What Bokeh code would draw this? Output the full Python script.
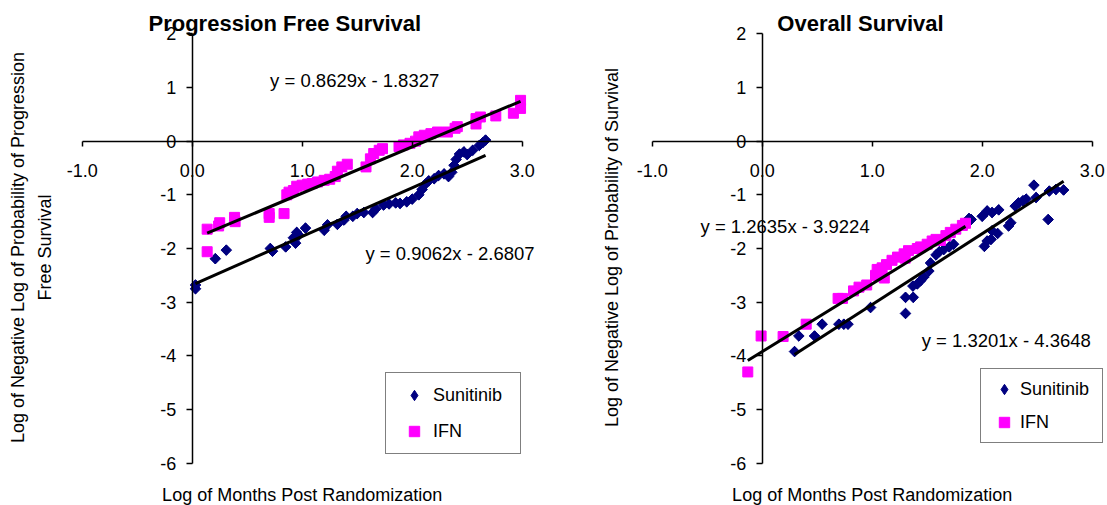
from math import pi

from bokeh.embed import file_html
from bokeh.layouts import row
from bokeh.models import (FixedTicker, Label, Legend, LegendItem, LinearAxis,
                          NumeralTickFormatter, Range1d)
from bokeh.plotting import figure
from bokeh.resources import INLINE

FONT = "Liberation Sans"
NAVY = "#000080"
MAGENTA = "#FF00FF"

# axis ticks
x_ticks = [-1, 0, 1, 2, 3]
y_ticks = [-6, -5, -4, -3, -2, -1, 0, 1, 2]

series_names = ["Sunitinib", "IFN"]

# Progression free survival: log(months) vs log(-log S)
pfs_sun_x = [0.03, 0.03, 0.21, 0.31, 0.71, 0.73, 0.85, 0.92, 0.94, 0.95, 0.97, 1.03,
             1.20, 1.23, 1.32, 1.38, 1.40, 1.46, 1.50, 1.56, 1.64, 1.67, 1.74, 1.79,
             1.85, 1.89, 1.95, 2.00, 2.06, 2.09, 2.12, 2.15, 2.20, 2.24, 2.29, 2.33,
             2.36, 2.38, 2.40, 2.43, 2.47, 2.50, 2.55, 2.61, 2.64, 2.667]
pfs_sun_y = [-2.68, -2.75, -2.19, -2.03, -2.00, -2.05, -1.97, -1.80, -1.90, -1.70, -1.75, -1.62,
             -1.66, -1.56, -1.55, -1.47, -1.40, -1.40, -1.35, -1.33, -1.33, -1.26, -1.19, -1.17,
             -1.15, -1.16, -1.13, -1.08, -1.00, -0.90, -0.80, -0.74, -0.70, -0.64, -0.61, -0.66,
             -0.58, -0.45, -0.34, -0.24, -0.20, -0.25, -0.17, -0.08, -0.03, 0.02]

pfs_ifn_x = [0.136, 0.136, 0.24, 0.25, 0.385, 0.39, 0.70, 0.70, 0.835, 0.86, 0.88, 0.92,
             0.95, 1.00, 1.05, 1.09, 1.14, 1.20, 1.25, 1.30, 1.32, 1.36, 1.41, 1.58,
             1.62, 1.65, 1.70, 1.73, 1.88, 1.92, 1.98, 2.03, 2.06, 2.11, 2.17, 2.23,
             2.32, 2.39, 2.41, 2.58, 2.58, 2.62, 2.76, 2.92, 2.985, 2.985]
pfs_ifn_y = [-1.64, -2.06, -1.58, -1.52, -1.42, -1.50, -1.35, -1.42, -1.35, -1.00, -0.95, -0.92,
             -0.84, -0.82, -0.80, -0.79, -0.76, -0.73, -0.71, -0.66, -0.56, -0.48, -0.43, -0.48,
             -0.33, -0.23, -0.17, -0.14, -0.10, -0.07, -0.04, 0.00, 0.08, 0.11, 0.14, 0.17,
             0.17, 0.24, 0.27, 0.32, 0.42, 0.45, 0.47, 0.52, 0.61, 0.76]

# Overall survival
os_sun_x = [0.294, 0.333, 0.476, 0.545, 0.697, 0.742, 0.78, 0.985, 1.303, 1.303, 1.373, 1.37,
            1.41, 1.44, 1.47, 1.515, 1.53, 1.58, 1.61, 1.65, 1.70, 1.74, 1.88, 1.90,
            2.00, 2.02, 2.045, 2.045, 2.08, 2.09, 2.09, 2.14, 2.15, 2.24, 2.26, 2.30,
            2.33, 2.37, 2.40, 2.47, 2.49, 2.60, 2.61, 2.67, 2.74]
os_sun_y = [-3.92, -3.63, -3.63, -3.41, -3.41, -3.41, -3.41, -3.10, -3.21, -2.91, -2.91, -2.70,
            -2.66, -2.60, -2.53, -2.42, -2.27, -2.12, -2.06, -2.02, -1.97, -1.92, -1.44, -1.46,
            -1.40, -1.96, -1.30, -1.86, -1.83, -1.33, -1.67, -1.72, -1.28, -1.58, -1.52, -1.21,
            -1.15, -1.11, -1.08, -0.82, -1.05, -1.46, -0.93, -0.90, -0.91]

os_ifn_x = [-0.131, -0.01, 0.19, 0.40, 0.69, 0.73, 0.83, 0.88, 0.95, 1.03, 1.045, 1.09,
            1.11, 1.13, 1.18, 1.23, 1.29, 1.30, 1.33, 1.41, 1.44, 1.50, 1.545, 1.58,
            1.62, 1.67, 1.71, 1.76, 1.82, 1.848]
os_ifn_y = [-4.30, -3.63, -3.64, -3.41, -2.93, -2.93, -2.79, -2.72, -2.68, -2.50, -2.39, -2.36,
            -2.55, -2.30, -2.22, -2.16, -2.10, -2.18, -2.04, -2.00, -1.97, -1.92, -1.86, -1.83,
            -1.85, -1.76, -1.70, -1.64, -1.57, -1.53]

# linear trendlines (slope, intercept)
pfs_fit_sun = (0.9062, -2.6807)
pfs_fit_ifn = (0.8629, -1.8327)
os_fit_sun = (1.3201, -4.3648)
os_fit_ifn = (1.2635, -3.9224)

# canvas geometry: the plot frame fills each figure, axes cross at the origin
HEIGHT = 505
PX_PER_X = 110.0      # pixels per x unit
ORIGIN_X_PX = 191.7   # pixel column of x = 0 inside each figure
PX_PER_Y = 53.675     # pixels per y unit
ORIGIN_Y_PX = 140.65  # pixel row of y = 0


def px_to_x(px):
    return (px - ORIGIN_X_PX) / PX_PER_X


def px_to_y(py):
    return (ORIGIN_Y_PX - py) / PX_PER_Y


def fit_text(fit):
    m, b = fit
    sign = "-" if b < 0 else "+"
    return f"y = {m:.4f}x {sign} {abs(b):.4f}"


def text_label(px, py, text, size="18px", style="normal", align="center", angle=0.0):
    return Label(x=px_to_x(px), y=px_to_y(py), text=text, angle=angle,
                 text_font=FONT, text_font_size=size, text_font_style=style,
                 text_color="black", text_align=align, text_baseline="middle")


def panel(width, title, title_px, ylabels, sun, ifn, fit_sun, fit_ifn,
          eq_sun, eq_ifn, legend_loc, legend_style):
    p = figure(width=width, height=HEIGHT,
               x_range=Range1d(px_to_x(0), px_to_x(width)),
               y_range=Range1d(px_to_y(HEIGHT), px_to_y(0)),
               x_axis_type=None, y_axis_type=None,
               output_backend="svg", toolbar_location=None,
               min_border=0, min_border_left=0, min_border_right=0,
               min_border_top=0, min_border_bottom=0)
    p.outline_line_color = None
    p.background_fill_color = "white"
    p.border_fill_color = "white"

    # axes crossing at the origin
    xax = LinearAxis(fixed_location=0, bounds=(-1, 3),
                     ticker=FixedTicker(ticks=x_ticks),
                     formatter=NumeralTickFormatter(format="0.0"))
    yax = LinearAxis(fixed_location=0, bounds=(-6, 2),
                     ticker=FixedTicker(ticks=y_ticks),
                     formatter=NumeralTickFormatter(format="0"))
    for ax, tick_out, standoff in ((xax, 5, 18), (yax, 6, 10)):
        ax.axis_line_color = "black"
        ax.axis_line_width = 1.5
        ax.major_tick_line_color = "black"
        ax.major_tick_line_width = 1.5
        ax.major_tick_in = 0
        ax.major_tick_out = tick_out
        ax.minor_tick_line_color = None
        ax.major_label_standoff = standoff
        ax.major_label_text_font = FONT
        ax.major_label_text_font_size = "18px"
        ax.major_label_text_color = "black"
    p.add_layout(xax, "below")
    p.add_layout(yax, "left")

    sx, sy = sun
    ix, iy = ifn
    # Sunitinib: a diamond core (also used as the legend key, since legend
    # glyphs are never rotated) under squares turned 45 degrees
    sun_key = p.scatter(sx, sy, marker="diamond", size=10,
                        fill_color=NAVY, line_color=NAVY)
    p.scatter(sx, sy, marker="square", angle=pi / 4, size=7.5,
              fill_color=NAVY, line_color=NAVY)
    r_ifn = p.scatter(ix, iy, marker="square", size=10,
                      fill_color=MAGENTA, line_color=MAGENTA)

    for xs, fit in ((sx, fit_sun), (ix, fit_ifn)):
        m, b = fit
        x0, x1 = min(xs), max(xs)
        p.line([x0, x1], [m * x0 + b, m * x1 + b], line_color="black", line_width=3)

    for (ex, ey), fit in ((eq_sun, fit_sun), (eq_ifn, fit_ifn)):
        p.add_layout(Label(x=ex, y=ey, text=fit_text(fit), text_font=FONT,
                           text_font_size="18.5px", text_color="black",
                           text_align="left", text_baseline="middle"))

    # chart title and axis titles
    p.add_layout(text_label(title_px, 23, title, size="22px", style="bold", align="left"))
    p.add_layout(text_label(301.7, 494, "Log of Months Post Randomization"))
    for text, px in ylabels:
        p.add_layout(text_label(px, 247, text, angle=pi / 2))

    legend = Legend(
        items=[LegendItem(label=series_names[0], renderers=[sun_key]),
               LegendItem(label=series_names[1], renderers=[r_ifn])],
        location=legend_loc, orientation="vertical", margin=0,
        border_line_color="black", border_line_width=1.5,
        background_fill_color="white", background_fill_alpha=1.0,
        label_text_font=FONT, label_text_font_size="18px", label_text_color="black",
        glyph_height=26, label_height=26, label_standoff=0, **legend_style)
    p.add_layout(legend)
    return p


left = panel(
    570, "Progression Free Survival", 148,
    [("Log of Negative Log of Probability of Progression", 17.9), ("Free Survival", 44.6)],
    (pfs_sun_x, pfs_sun_y), (pfs_ifn_x, pfs_ifn_y), pfs_fit_sun, pfs_fit_ifn,
    eq_sun=(1.575, -2.09), eq_ifn=(0.708, 1.137),
    legend_loc=(385, 51),
    legend_style=dict(padding=9, spacing=10, glyph_width=38, label_width=78),
)

right = panel(
    537, "Overall Survival", 206.8,
    [("Log of Negative Log of Probability of Survival", 41.7)],
    (os_sun_x, os_sun_y), (os_ifn_x, os_ifn_y), os_fit_sun, os_fit_ifn,
    eq_sun=(1.45, -3.72), eq_ifn=(-0.561, -1.597),
    legend_loc=(410, 62),
    legend_style=dict(padding=7, spacing=7, glyph_width=32, label_width=75),
)

layout = row(left, right, spacing=0)

with open("out.html", "w") as f:
    f.write(file_html(layout, INLINE))
